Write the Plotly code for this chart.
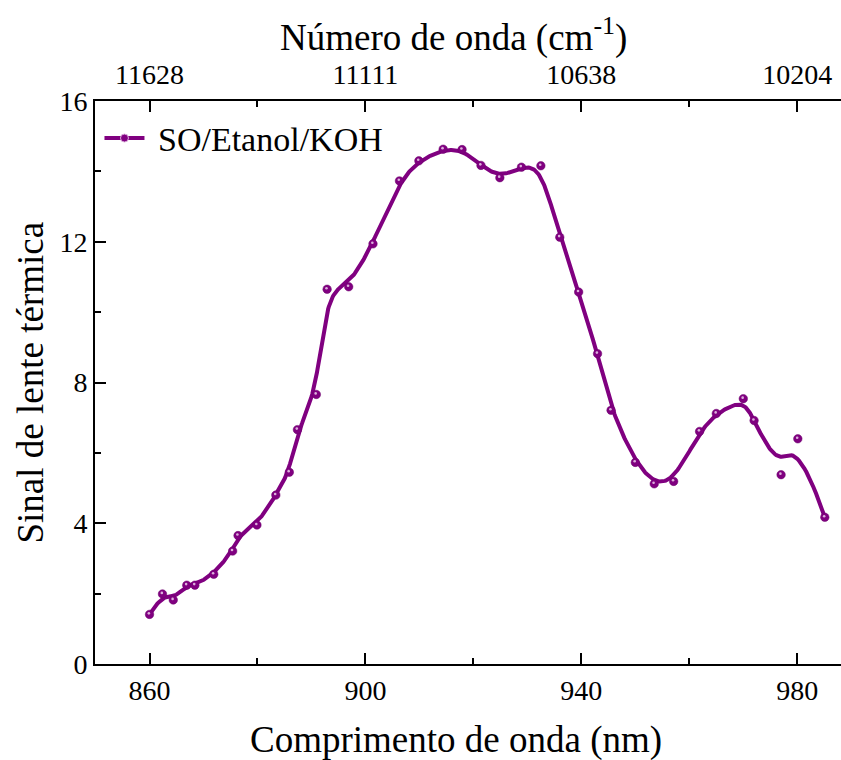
import numpy as np
import plotly.graph_objects as go

# ---- data ----
wavelength_nm = [860.0, 862.4, 864.4, 866.9, 868.4, 871.9, 875.4, 876.4, 879.9, 883.4,
                 885.9, 887.4, 890.9, 892.9, 896.9, 901.4, 906.3, 909.9, 914.4, 917.9,
                 921.4, 924.9, 928.9, 932.5, 936.0, 939.5, 943.0, 945.5, 950.0, 953.5,
                 957.1, 961.9, 965.0, 970.0, 972.0, 977.0, 980.1, 985.1]
signal = [1.41, 1.99, 1.82, 2.24, 2.24, 2.55, 3.21, 3.65, 3.95, 4.80,
          5.45, 6.66, 7.66, 10.65, 10.72, 11.94, 13.73, 14.30, 14.63, 14.62,
          14.17, 13.82, 14.12, 14.16, 12.13, 10.57, 8.82, 7.21, 5.73, 5.12,
          5.19, 6.61, 7.12, 7.54, 6.92, 5.38, 6.40, 4.17]

series_name = "\u00a0SO/Etanol/KOH"
bottom_tick_vals = [860, 900, 940, 980]
bottom_tick_text = ["860", "900", "940", "980"]
top_tick_text = ["11628", "11111", "10638", "10204"]
minor_tick_vals = [880, 920, 960]
y_tick_vals = [0, 4, 8, 12, 16]


def clamped_bspline(px, py, k=3, num=900):
    """Cubic B-spline using the data points as control points (Origin 'B-Spline')."""
    px = np.asarray(px, float)
    py = np.asarray(py, float)
    n = len(px)
    knots = np.concatenate([np.zeros(k), np.linspace(0, 1, n - k + 1), np.ones(k)])
    t = np.linspace(0, 1, num)
    t[-1] -= 1e-10
    N = np.zeros((num, len(knots) - 1))
    for i in range(len(knots) - 1):
        N[:, i] = ((t >= knots[i]) & (t < knots[i + 1])).astype(float)
    for d in range(1, k + 1):
        Nn = np.zeros((num, len(knots) - 1 - d))
        for i in range(len(knots) - 1 - d):
            a = knots[i + d] - knots[i]
            b = knots[i + d + 1] - knots[i + 1]
            term = np.zeros(num)
            if a > 0:
                term += (t - knots[i]) / a * N[:, i]
            if b > 0:
                term += (knots[i + d + 1] - t) / b * N[:, i + 1]
            Nn[:, i] = term
        N = Nn
    return N @ px, N @ py


cx, cy = clamped_bspline(wavelength_nm, signal)

PURPLE = "#800080"
FONT = "'Liberation Serif', 'Times New Roman', Times, serif"

fig = go.Figure()
# smooth B-spline curve
fig.add_trace(go.Scatter(x=cx, y=cy, mode="lines", line=dict(color=PURPLE, width=4),
                         showlegend=False, hoverinfo="skip"))
# data markers
fig.add_trace(go.Scatter(x=wavelength_nm, y=signal, mode="markers",
                         marker=dict(color=PURPLE, size=8.5, line=dict(color="#6a006a", width=0.5)),
                         showlegend=False))
# marker highlights (small specular dot, slightly up-left)
fig.add_trace(go.Scatter(x=np.asarray(wavelength_nm) - 0.12, y=np.asarray(signal) + 0.03,
                         mode="markers",
                         marker=dict(color="#dcb0dc", size=2.6, line=dict(width=0)),
                         showlegend=False, hoverinfo="skip"))
# legend entry
fig.add_trace(go.Scatter(x=[None], y=[None], mode="lines+markers", name=series_name,
                         line=dict(color=PURPLE, width=4),
                         marker=dict(color=PURPLE, size=8, line=dict(color="#dcb0dc", width=1))))
# invisible trace for the top axis
fig.add_trace(go.Scatter(x=[wavelength_nm[0]], y=[signal[0]], xaxis="x2", mode="markers",
                         marker=dict(opacity=0), showlegend=False, hoverinfo="skip"))

xrange_ = [849.9, 988.1]
axis_common = dict(showline=True, linecolor="black", linewidth=2, ticks="inside",
                   ticklen=11, tickwidth=2, tickcolor="black", showgrid=False, zeroline=False,
                   tickfont=dict(family=FONT, size=28, color="black"))

fig.update_layout(
    width=841, height=760,
    margin=dict(l=95, r=0, t=101, b=96),
    paper_bgcolor="white", plot_bgcolor="white",
    font=dict(family=FONT, color="black"),
    xaxis=dict(range=xrange_, tickmode="array", tickvals=bottom_tick_vals,
               ticktext=bottom_tick_text,
               minor=dict(tickmode="array", tickvals=minor_tick_vals, ticklen=6,
                          tickwidth=2, tickcolor="black", ticks="inside"),
               **axis_common),
    xaxis2=dict(range=xrange_, overlaying="x", side="top", tickmode="array",
                tickvals=bottom_tick_vals, ticktext=top_tick_text, ticklabelstandoff=4,
                minor=dict(tickmode="array", tickvals=minor_tick_vals, ticklen=6,
                           tickwidth=2, tickcolor="black", ticks="inside"),
                **axis_common),
    yaxis=dict(range=[0, 16], tickmode="array", tickvals=y_tick_vals,
               minor=dict(dtick=2, ticklen=6, tickwidth=2, tickcolor="black", ticks="inside"),
               **axis_common),
    legend=dict(x=0.006, y=0.985, xanchor="left", yanchor="top", bgcolor="rgba(0,0,0,0)",
                font=dict(family=FONT, size=34, color="black"), itemwidth=40,
                tracegroupgap=0),
    showlegend=True,
    annotations=[
        dict(text="Comprimento de onda (nm)", xref="paper", yref="paper",
             x=(456 - 95) / 746, y=(664 - 740) / 563, xanchor="center", yanchor="middle",
             showarrow=False, font=dict(family=FONT, size=37, color="black")),
        dict(text="Número de onda (cm<sup>-1</sup>)", xref="paper", yref="paper",
             x=(453 - 95) / 746, y=(664 - 35) / 563, xanchor="center", yanchor="middle",
             showarrow=False, font=dict(family=FONT, size=37, color="black")),
        dict(text="Sinal de lente térmica", xref="paper", yref="paper",
             x=(30 - 95) / 746, y=0.5, xanchor="center", yanchor="middle", textangle=-90,
             showarrow=False, font=dict(family=FONT, size=37, color="black")),
    ],
)

fig.write_html("out.html")
